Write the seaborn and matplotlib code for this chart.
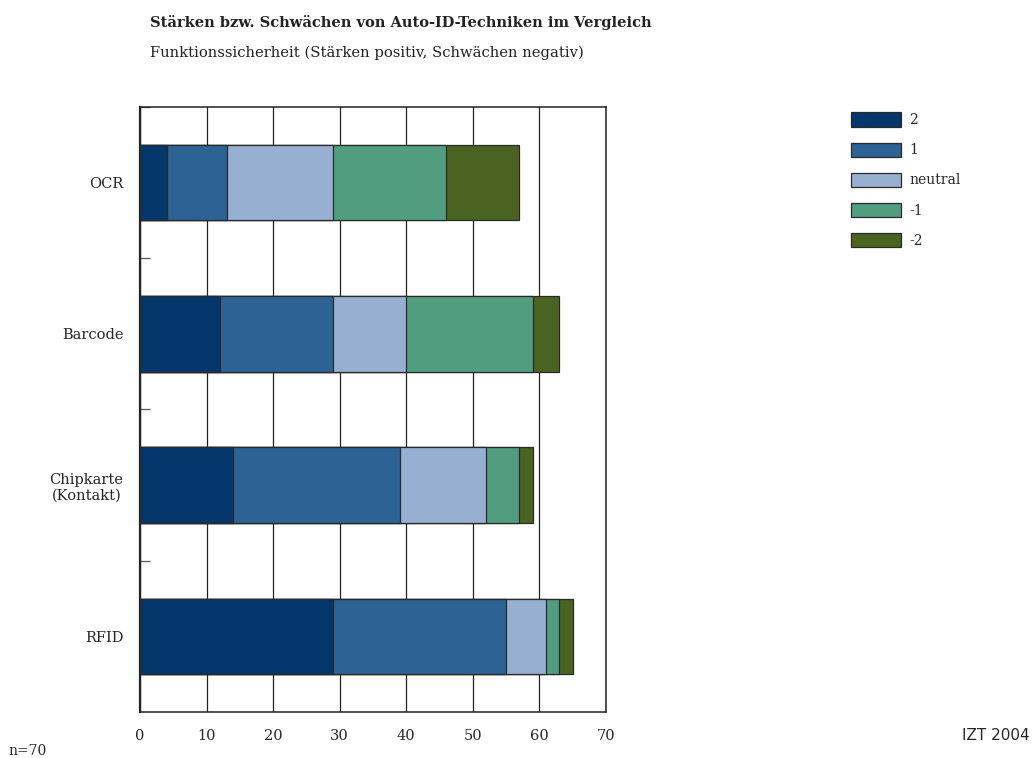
import pandas as pd
import matplotlib.pyplot as plt
import seaborn as sns
from matplotlib.patches import Patch

# Chart data
categories = ['OCR', 'Barcode', 'Chipkarte\n(Kontakt)', 'RFID']
levels = ['2', '1', 'neutral', '-1', '-2']
val_2 = [4, 12, 14, 29]
val_1 = [9, 17, 25, 26]
val_neutral = [16, 11, 13, 6]
val_m1 = [17, 19, 5, 2]
val_m2 = [11, 4, 2, 2]
colors = ['#03366b', '#2d6294', '#97afd1', '#529d80', '#4a6320']
x_ticks = [0, 10, 20, 30, 40, 50, 60, 70]

df = pd.DataFrame({'2': val_2, '1': val_1, 'neutral': val_neutral,
                   '-1': val_m1, '-2': val_m2}, index=categories)
cum = df[levels].cumsum(axis=1)

sns.set_style('white')
plt.rcParams['font.family'] = ['DejaVu Serif']

fig = plt.figure(figsize=(10.35, 7.58), dpi=100)
ax = fig.add_axes([0.1353, 0.0607, 0.4502, 0.7982])

# Stacked bars: draw the cumulative totals from the outside in
for lev, col in zip(reversed(levels), reversed(colors)):
    sns.barplot(x=cum[lev].values, y=categories, order=categories, orient='h',
                color=col, saturation=1, width=0.5, edgecolor='#2a2a2a',
                linewidth=0.9, ax=ax, zorder=3)

ax.set_xlim(0, 70)
ax.set_ylim(3.5, -0.5)
ax.set_xticks(x_ticks)
ax.set_xticklabels([str(t) for t in x_ticks], fontsize=10.5)
ax.tick_params(axis='x', length=0, pad=12)
ax.tick_params(axis='y', which='major', length=0, pad=12, labelsize=10.5)
for lbl in ax.get_yticklabels():
    lbl.set_multialignment('center')

# small inward ticks between the categories
ax.set_yticks([-0.5, 0.5, 1.5, 2.5], minor=True)
ax.tick_params(axis='y', which='minor', left=True, direction='in', length=7,
               width=0.9, color='#555555')

ax.set_xlabel('')
ax.set_ylabel('')
ax.grid(axis='x', color='#222222', linewidth=0.9, zorder=0)
ax.grid(axis='y', visible=False)
ax.set_axisbelow(True)
for side in ['left', 'bottom', 'top', 'right']:
    ax.spines[side].set_visible(True)
    ax.spines[side].set_color('#222222')
    ax.spines[side].set_linewidth(1.1)
ax.spines['left'].set_linewidth(1.6)

fig.text(150 / 1035, 1 - 27 / 758, 'Stärken bzw. Schwächen von Auto-ID-Techniken im Vergleich',
         fontsize=10.5, fontweight='bold', va='baseline', color='#222222')
fig.text(150 / 1035, 1 - 57 / 758, 'Funktionssicherheit (Stärken positiv, Schwächen negativ)',
         fontsize=10.6, va='baseline', color='#222222')

handles = [Patch(facecolor=c, edgecolor='#2a2a2a', linewidth=0.9) for c in colors]
fig.legend(handles, levels, loc='upper left', bbox_to_anchor=(838 / 1035, 1 - 100 / 758),
           frameon=False, fontsize=10, handlelength=3.6, handleheight=1.2,
           labelspacing=1.1, handletextpad=0.65)

fig.text(8 / 1035, 1 - 755 / 758, 'n=70', fontsize=10, va='baseline')
fig.text(1030 / 1035, 1 - 740 / 758, 'IZT 2004', fontsize=11, ha='right', va='baseline',
         family='DejaVu Sans')

fig.savefig('out.png', dpi=100)
